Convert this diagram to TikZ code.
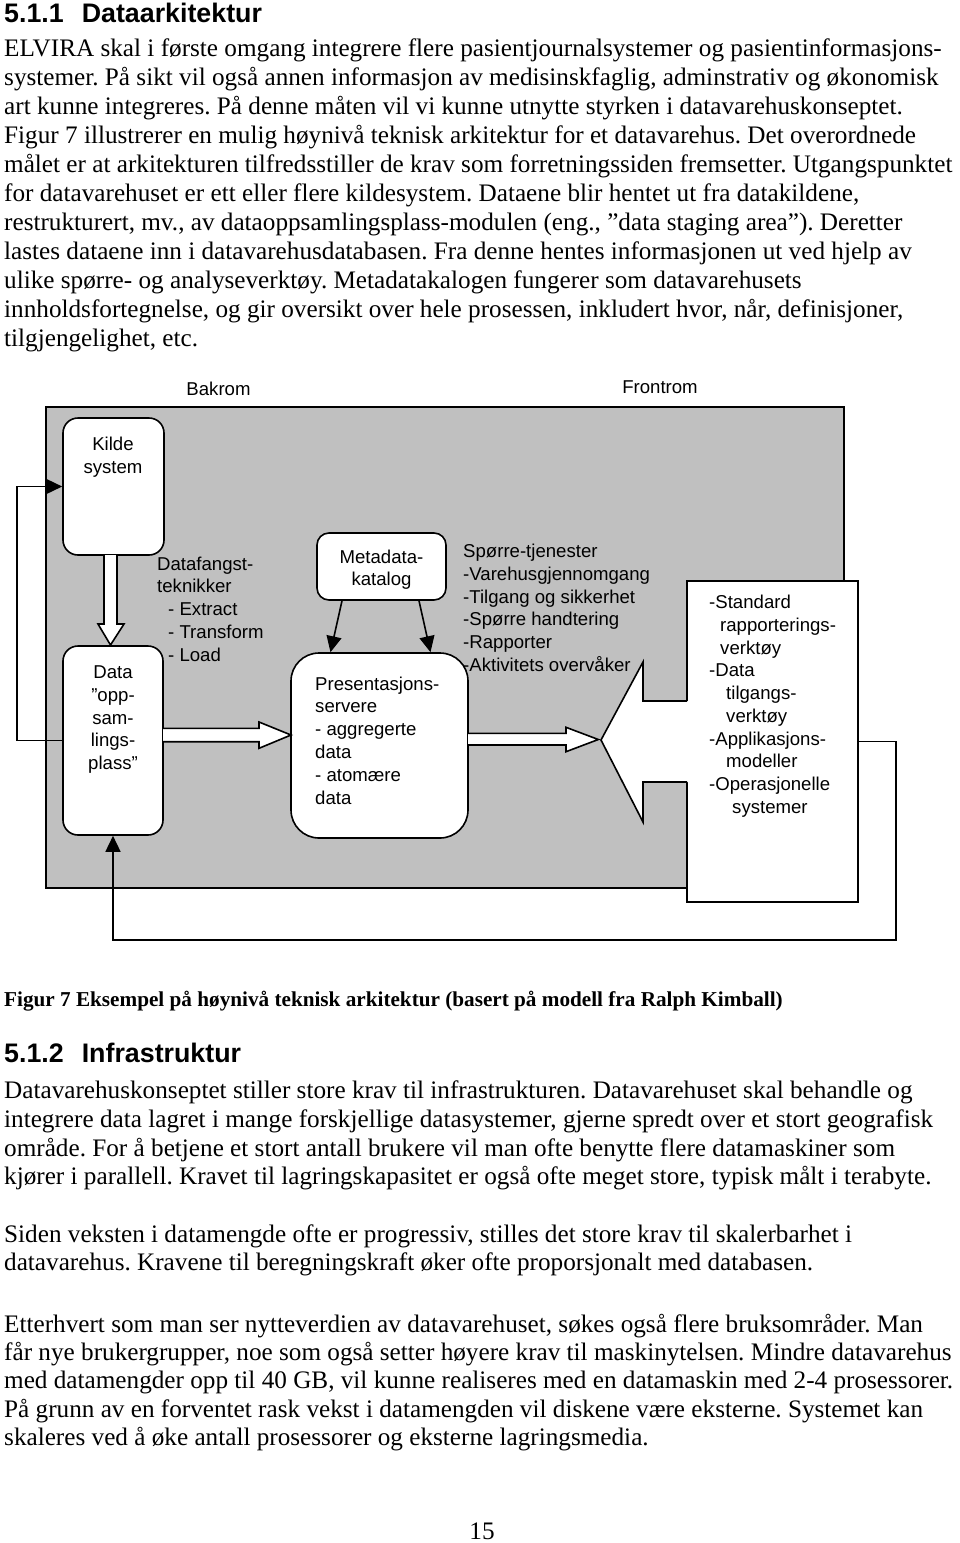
\documentclass[tikz,border=0pt]{standalone}
\usepackage{fontspec}
\setmainfont{Liberation Serif}
\newfontfamily\arialf{Liberation Sans}
\usetikzlibrary{arrows.meta}
\definecolor{bg}{RGB}{192,192,192}
\begin{document}
\frenchspacing
\begin{tikzpicture}[x=1pt,y=-1pt,
 body/.style={anchor=base west,inner sep=0pt,font=\frenchspacing\fontsize{25.2}{28.8}\selectfont},
 headt/.style={anchor=base west,inner sep=0pt,font=\arialf\bfseries\fontsize{26.8}{30}\selectfont},
 capt/.style={anchor=base west,inner sep=0pt,font=\frenchspacing\bfseries\fontsize{21.2}{24}\selectfont},
 lbl/.style={inner sep=0pt,font=\arialf\fontsize{18.6}{22.8}\selectfont},
 lbw/.style={lbl,anchor=base west},
 lbc/.style={lbl,anchor=base},
 boxs/.style={draw=black,line width=1.6pt,fill=white,inner sep=0pt},
 ln/.style={draw=black,line width=1.6pt},
 tipa/.style={-{Triangle[length=16pt,width=15pt]}},
]
\useasboundingbox (0,0) rectangle (960,1543);
\fill[white] (0,0) rectangle (960,1543);

% ---------- page text ----------
\node[headt] (h1) at (4,22) {5.1.1\hspace{18pt}Dataarkitektur};
\node[body] (t1) at (4,56) {ELVIRA skal i første omgang integrere flere pasientjournalsystemer og pasientinformasjons-};
\node[body] (t2) at (4,85) {systemer. På sikt vil også annen informasjon av medisinskfaglig, adminstrativ og økonomisk};
\node[body] (t3) at (4,114) {art kunne integreres. På denne måten vil vi kunne utnytte styrken i datavarehuskonseptet.};
\node[body] (t4) at (4,143) {Figur 7 illustrerer en mulig høynivå teknisk arkitektur for et datavarehus. Det overordnede};
\node[body] (t5) at (4,172) {målet er at arkitekturen tilfredsstiller de krav som forretningssiden fremsetter. Utgangspunktet};
\node[body] (t6) at (4,201) {for datavarehuset er ett eller flere kildesystem. Dataene blir hentet ut fra datakildene,};
\node[body] (t7) at (4,230) {restrukturert, mv., av dataoppsamlingsplass-modulen (eng., ”data staging area”). Deretter};
\node[body] (t8) at (4,259) {lastes dataene inn i datavarehusdatabasen. Fra denne hentes informasjonen ut ved hjelp av};
\node[body] (t9) at (4,288) {ulike spørre- og analyseverktøy. Metadatakalogen fungerer som datavarehusets};
\node[body] (t10) at (4,317) {innholdsfortegnelse, og gir oversikt over hele prosessen, inkludert hvor, når, definisjoner,};
\node[body] (t11) at (4,346) {tilgjengelighet, etc.};

\node[capt] (cap) at (4,1006) {Figur 7 Eksempel på høynivå teknisk arkitektur (basert på modell fra Ralph Kimball)};
\node[headt] (h2) at (4,1062) {5.1.2\hspace{18pt}Infrastruktur};
\node[body] (u1) at (4,1098) {Datavarehuskonseptet stiller store krav til infrastrukturen. Datavarehuset skal behandle og};
\node[body] (u2) at (4,1127) {integrere data lagret i mange forskjellige datasystemer, gjerne spredt over et stort geografisk};
\node[body] (u3) at (4,1156) {område. For å betjene et stort antall brukere vil man ofte benytte flere datamaskiner som};
\node[body] (u4) at (4,1184) {kjører i parallell. Kravet til lagringskapasitet er også ofte meget store, typisk målt i terabyte.};
\node[body] (v1) at (4,1242) {Siden veksten i datamengde ofte er progressiv, stilles det store krav til skalerbarhet i};
\node[body] (v2) at (4,1270) {datavarehus. Kravene til beregningskraft øker ofte proporsjonalt med databasen.};
\node[body] (w1) at (4,1332) {Etterhvert som man ser nytteverdien av datavarehuset, søkes også flere bruksområder. Man};
\node[body] (w2) at (4,1360) {får nye brukergrupper, noe som også setter høyere krav til maskinytelsen. Mindre datavarehus};
\node[body] (w3) at (4,1388) {med datamengder opp til 40 GB, vil kunne realiseres med en datamaskin med 2-4 prosessorer.};
\node[body] (w4) at (4,1417) {På grunn av en forventet rask vekst i datamengden vil diskene være eksterne. Systemet kan};
\node[body] (w5) at (4,1445) {skaleres ved å øke antall prosessorer og eksterne lagringsmedia.};
\node[body,anchor=base] (pg) at (482,1539) {15};

% ---------- diagram ----------
\node[lbc] (bakrom) at (218.5,395) {Bakrom};
\node[lbc] (frontrom) at (660,393) {Frontrom};

\node[boxs,fill=bg,minimum width=798pt,minimum height=481pt] (gray) at (445,647.5) {};
\node[boxs,rounded corners=15pt,minimum width=101pt,minimum height=137pt] (kilde) at (113.5,486.5) {};
\node[boxs,rounded corners=15pt,minimum width=100pt,minimum height=189pt] (data) at (113,740.5) {};
\node[boxs,rounded corners=12pt,minimum width=129pt,minimum height=67pt] (meta) at (381.5,566.5) {};
\node[boxs,rounded corners=28pt,minimum width=177pt,minimum height=185pt] (pres) at (379.5,745.5) {};
\node[boxs,minimum width=171pt,minimum height=321pt] (rbox) at (772.5,741.5) {};

% big left-pointing hollow arrow into rbox
\path[fill=white] (688.6,701) -- (643,701) -- (643,662) -- (601,740) -- (643,822) -- (643,782) -- (688.6,782) -- cycle;
\draw[ln,line join=miter] (687,701) -- (643,701) -- (643,662) -- (601,740) -- (643,822) -- (643,782) -- (687,782);

% hollow arrow kilde -> data
\draw[ln,fill=white,line join=miter] (104,555) -- (104,624) -- (98,624) -- (110.5,645) -- (124,624) -- (117,624) -- (117,555);
% hollow arrow data -> pres
\draw[ln,fill=white,line join=miter] (163,728.3) -- (259,728.3) -- (259,722) -- (291,735) -- (259,748.3) -- (259,741.7) -- (163,741.7);
% hollow arrow pres -> big arrow
\draw[ln,fill=white,line join=miter] (468,733.3) -- (566,733.3) -- (566,727.3) -- (598.3,739.5) -- (566,751.7) -- (566,745) -- (468,745);

% metadata arrows
\draw[ln,tipa] (meta.south -| 342,0) -- (pres.north -| 330.5,0);
\draw[ln,tipa] (meta.south -| 419,0) -- (pres.north -| 430.5,0);

% feedback loops
\draw[ln,tipa] (data.west) -- (17,740.5) |- (kilde.west);
\draw[ln,tipa] (rbox.east) -- (896,741.5) -- (896,940) -| (data.south);

% diagram labels
\node[lbc] (k1) at (113,450) {Kilde};
\node[lbc] (k2) at (113,473) {system};

\node[lbw] (d1) at (157,570) {Datafangst-};
\node[lbw] (d2) at (157,592.8) {teknikker};
\node[lbw] (d3) at (168,615.6) {- Extract};
\node[lbw] (d4) at (168,638.4) {- Transform};
\node[lbw] (d5) at (168,661.2) {- Load};

\node[lbc] (m1) at (381.5,563) {Metadata-};
\node[lbc] (m2) at (381.5,585.5) {katalog};

\node[lbc] (s1) at (113,678) {Data};
\node[lbc] (s2) at (113,701) {”opp-};
\node[lbc] (s3) at (113,724) {sam-};
\node[lbc] (s4) at (113,746.5) {lings-};
\node[lbc] (s5) at (113,769) {plass”};

\node[lbw] (p1) at (315,690) {Presentasjons-};
\node[lbw] (p2) at (315,712.8) {servere};
\node[lbw] (p3) at (315,735.6) {- aggregerte};
\node[lbw] (p4) at (315,758.4) {data};
\node[lbw] (p5) at (315,781.2) {- atomære};
\node[lbw] (p6) at (315,804) {data};

\node[lbw] (q1) at (463,557) {Spørre-tjenester};
\node[lbw] (q2) at (463,580) {-Varehusgjennomgang};
\node[lbw] (q3) at (463,603) {-Tilgang og sikkerhet};
\node[lbw] (q4) at (463,625.5) {-Spørre handtering};
\node[lbw] (q5) at (463,648.3) {-Rapporter};
\node[lbw] (q6) at (463,671) {-Aktivitets overvåker};

\node[lbw] (r1) at (709,608.3) {-Standard};
\node[lbw] (r2) at (720,631) {rapporterings-};
\node[lbw] (r3) at (720,654) {verktøy};
\node[lbw] (r4) at (709,676.7) {-Data};
\node[lbw] (r5) at (726,699.5) {tilgangs-};
\node[lbw] (r6) at (726,722.3) {verktøy};
\node[lbw] (r7) at (709,745) {-Applikasjons-};
\node[lbw] (r8) at (726,767.9) {modeller};
\node[lbw] (r9) at (709,790.7) {-Operasjonelle};
\node[lbw] (r10) at (732,813.5) {systemer};
\end{tikzpicture}
\end{document}
